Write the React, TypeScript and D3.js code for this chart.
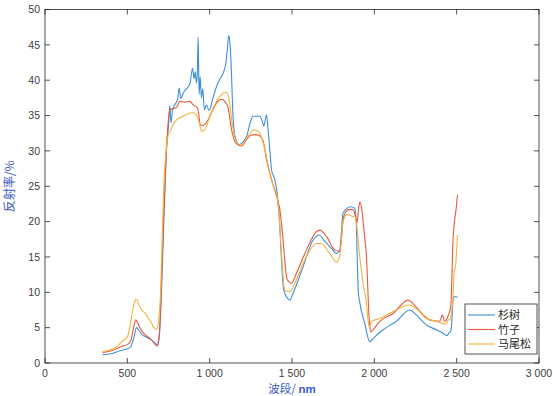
import React from "react";
import * as d3 from "d3";

const seriesNames = ["杉树", "竹子", "马尾松"];
const seriesColors = ["#3d8fd8", "#e8583c", "#f4b23a"];

const firData: [number, number][] = [
  [350,1.2],[400,1.3],[450,1.7],[500,2.0],[520,2.3],[540,3.6],[555,5.0],[570,4.6],[590,4.0],[620,3.6],[650,3.2],[668,2.8],[680,2.5],[690,3.3],[700,6],[710,12],[720,19],[730,26],[740,31],[750,33.5],[758,36.4],[765,34.0],[775,35.8],[790,36.6],[805,37.3],[815,38.9],[825,37.4],[840,38.2],[860,38.8],[880,39.5],[896,41.7],[905,40.2],[912,41.2],[920,39.6],[925,41],[930,46.1],[936,38],[942,40.5],[950,37.5],[958,38.8],[968,35.8],[980,36.5],[997,35.7],[1020,37.5],[1042,39.1],[1065,40.3],[1082,41.0],[1098,42.4],[1108,44.5],[1115,46.3],[1122,45.5],[1129,42.9],[1143,34.4],[1159,31.6],[1179,30.9],[1200,31.2],[1224,32.0],[1250,34.3],[1264,34.9],[1290,34.9],[1304,34.9],[1318,34.3],[1329,33.5],[1345,35.1],[1355,33],[1365,30.2],[1376,27.3],[1396,25.9],[1410,24.0],[1426,19.3],[1436,14.6],[1450,10.3],[1466,9.4],[1487,8.9],[1507,9.9],[1567,13.6],[1628,17.4],[1665,18.1],[1699,17.2],[1740,16.2],[1770,15.5],[1790,16.0],[1800,18.5],[1810,21.2],[1835,21.9],[1855,22.1],[1881,21.9],[1890,20],[1896,15],[1903,10],[1912,8.5],[1942,5.6],[1972,3.0],[2002,3.7],[2053,4.7],[2134,5.9],[2215,7.5],[2255,6.8],[2316,5.4],[2377,4.7],[2417,4.2],[2437,3.9],[2447,4.0],[2454,4.3],[2462,4.4],[2470,5.6],[2478,8.9],[2488,9.4],[2505,9.3]
];

const bambooData: [number, number][] = [
  [350,1.5],[400,1.7],[435,2.0],[470,2.4],[500,2.6],[520,3.1],[538,5.0],[552,6.1],[565,5.6],[580,4.8],[607,4.0],[630,3.6],[650,3.2],[670,2.6],[683,2.4],[695,4],[705,10],[720,20],[735,29],[748,34],[758,35.8],[780,36.0],[800,36.2],[819,37.0],[850,36.9],[880,37.0],[900,36.5],[925,36.1],[935,35.0],[942,33.7],[960,33.6],[991,34.4],[1015,35.6],[1042,36.8],[1072,37.3],[1092,37.0],[1112,36.1],[1133,33.0],[1159,31.1],[1193,30.7],[1224,31.6],[1250,32.2],[1275,32.3],[1305,32.1],[1325,31.4],[1345,28.8],[1376,25.9],[1406,23.6],[1426,21.7],[1442,18.4],[1456,14.6],[1470,11.8],[1497,11.3],[1527,12.7],[1588,16.0],[1649,18.6],[1669,18.8],[1709,17.9],[1760,16.0],[1790,15.8],[1814,20.7],[1841,21.7],[1871,21.7],[1888,20.5],[1895,19.8],[1905,22],[1913,22.8],[1925,21.5],[1936,19],[1952,15.1],[1968,6.6],[1977,4.4],[1992,4.7],[2033,5.9],[2114,7.0],[2205,8.9],[2235,8.4],[2296,6.8],[2336,6.1],[2397,5.9],[2413,6.8],[2427,5.9],[2447,6.6],[2464,8.0],[2478,17.4],[2498,22.1],[2505,23.8]
];

const pineData: [number, number][] = [
  [350,1.6],[400,1.9],[435,2.3],[465,3.0],[500,3.7],[515,5],[526,6.6],[540,8.3],[556,9.0],[570,8.2],[587,7.5],[610,7.0],[627,6.3],[645,5.8],[657,5.1],[678,4.8],[690,6],[700,9],[710,16],[720,24],[735,30],[748,32.2],[760,32.8],[780,33.8],[799,34.4],[830,34.8],[860,35.2],[900,35.4],[920,35.1],[937,34.0],[951,32.8],[971,33.0],[1001,34.9],[1020,36.0],[1042,37.0],[1072,38.0],[1102,38.3],[1118,37.3],[1139,33.5],[1167,31.1],[1193,30.8],[1224,31.8],[1250,32.6],[1264,33.0],[1285,32.9],[1305,32.5],[1335,30.2],[1365,26.9],[1396,24.5],[1410,23.6],[1422,20.7],[1436,15.5],[1456,10.3],[1487,10.1],[1527,11.8],[1588,15.1],[1649,16.9],[1679,16.9],[1729,15.5],[1770,14.3],[1790,15.1],[1810,20.0],[1835,21.0],[1871,20.7],[1881,20.8],[1891,19.8],[1911,15.1],[1932,11.3],[1952,8.5],[1968,5.1],[1983,5.9],[2033,6.3],[2114,7.3],[2215,8.2],[2255,7.7],[2316,6.3],[2377,5.9],[2437,5.5],[2447,6.1],[2458,6.1],[2468,7.0],[2478,9.4],[2484,12.7],[2494,13.9],[2505,18.1]
];

const allSeries = [firData, bambooData, pineData];
const xTicks = [0, 500, 1000, 1500, 2000, 2500, 3000];
const yTicks = [0, 5, 10, 15, 20, 25, 30, 35, 40, 45, 50];

const W = 553, H = 396;
const L = 45, R = 539, T = 9.5, B = 363;

export default function App() {
  const x = d3.scaleLinear().domain([0, 3000]).range([L, R]);
  const y = d3.scaleLinear().domain([0, 50]).range([B, T]);
  const locale = d3.formatLocale({ decimal: ".", thousands: " ", grouping: [3], currency: ["", ""] });
  const fmt = locale.format(",");
  const line = d3.line<[number, number]>().x(d => x(d[0])).y(d => y(d[1])).curve(d3.curveMonotoneX);
  const axisColor = "#262626";
  const tickFont = { fontFamily: "'Liberation Sans', Arial, sans-serif", fontSize: 10.5, fill: "#404040" };
  const tl = 5;
  const legTop = 304, legStep = 14.5;
  return (
    <svg width={W} height={H} style={{ position: "absolute", left: 0, top: 0, background: "#fff" }}>
      <rect x={0} y={0} width={W} height={H} fill="#fff" />
      {allSeries.map((s, i) => (
        <path key={i} d={line(s) || ""} fill="none" stroke={seriesColors[i]} strokeWidth={1.1} />
      ))}
      <rect x={L} y={T} width={R - L} height={B - T} fill="none" stroke={axisColor} strokeWidth={0.8} />
      {xTicks.map(t => (
        <g key={"x" + t}>
          <line x1={x(t)} x2={x(t)} y1={B} y2={B - tl} stroke={axisColor} strokeWidth={0.8} />
          <line x1={x(t)} x2={x(t)} y1={T} y2={T + tl} stroke={axisColor} strokeWidth={0.8} />
          <text x={x(t)} y={B + 14} textAnchor="middle" {...tickFont}>{fmt(t)}</text>
        </g>
      ))}
      {yTicks.map(t => (
        <g key={"y" + t}>
          <line x1={L} x2={L + tl} y1={y(t)} y2={y(t)} stroke={axisColor} strokeWidth={0.8} />
          <line x1={R} x2={R - tl} y1={y(t)} y2={y(t)} stroke={axisColor} strokeWidth={0.8} />
          <text x={L - 5} y={y(t) + 3.8} textAnchor="end" {...tickFont}>{fmt(t)}</text>
        </g>
      ))}
      <text x={(L + R) / 2} y={393} textAnchor="middle" fill="#3b5bc4" fontSize={11.5} fontFamily="'Noto Sans CJK SC', sans-serif">
        波段/ <tspan fontWeight="bold" fontFamily="'Liberation Sans', Arial, sans-serif">nm</tspan>
      </text>
      <text transform={`translate(14,${(T + B) / 2}) rotate(-90)`} textAnchor="middle" fill="#3b5bc4" fontSize={12} fontFamily="'Noto Sans CJK SC', sans-serif">
        反射率/%
      </text>
      <g>
        <rect x={465} y={legTop} width={72} height={50} fill="#fff" stroke={axisColor} strokeWidth={0.8} />
        {seriesNames.map((n, i) => (
          <g key={n}>
            <line x1={468} x2={495} y1={legTop + 11 + i * legStep} y2={legTop + 11 + i * legStep} stroke={seriesColors[i]} strokeWidth={1.1} />
            <text x={498} y={legTop + 11 + i * legStep + 4} fontSize={11} fill="#262626" fontFamily="'Noto Sans CJK SC', sans-serif">{n}</text>
          </g>
        ))}
      </g>
    </svg>
  );
}
